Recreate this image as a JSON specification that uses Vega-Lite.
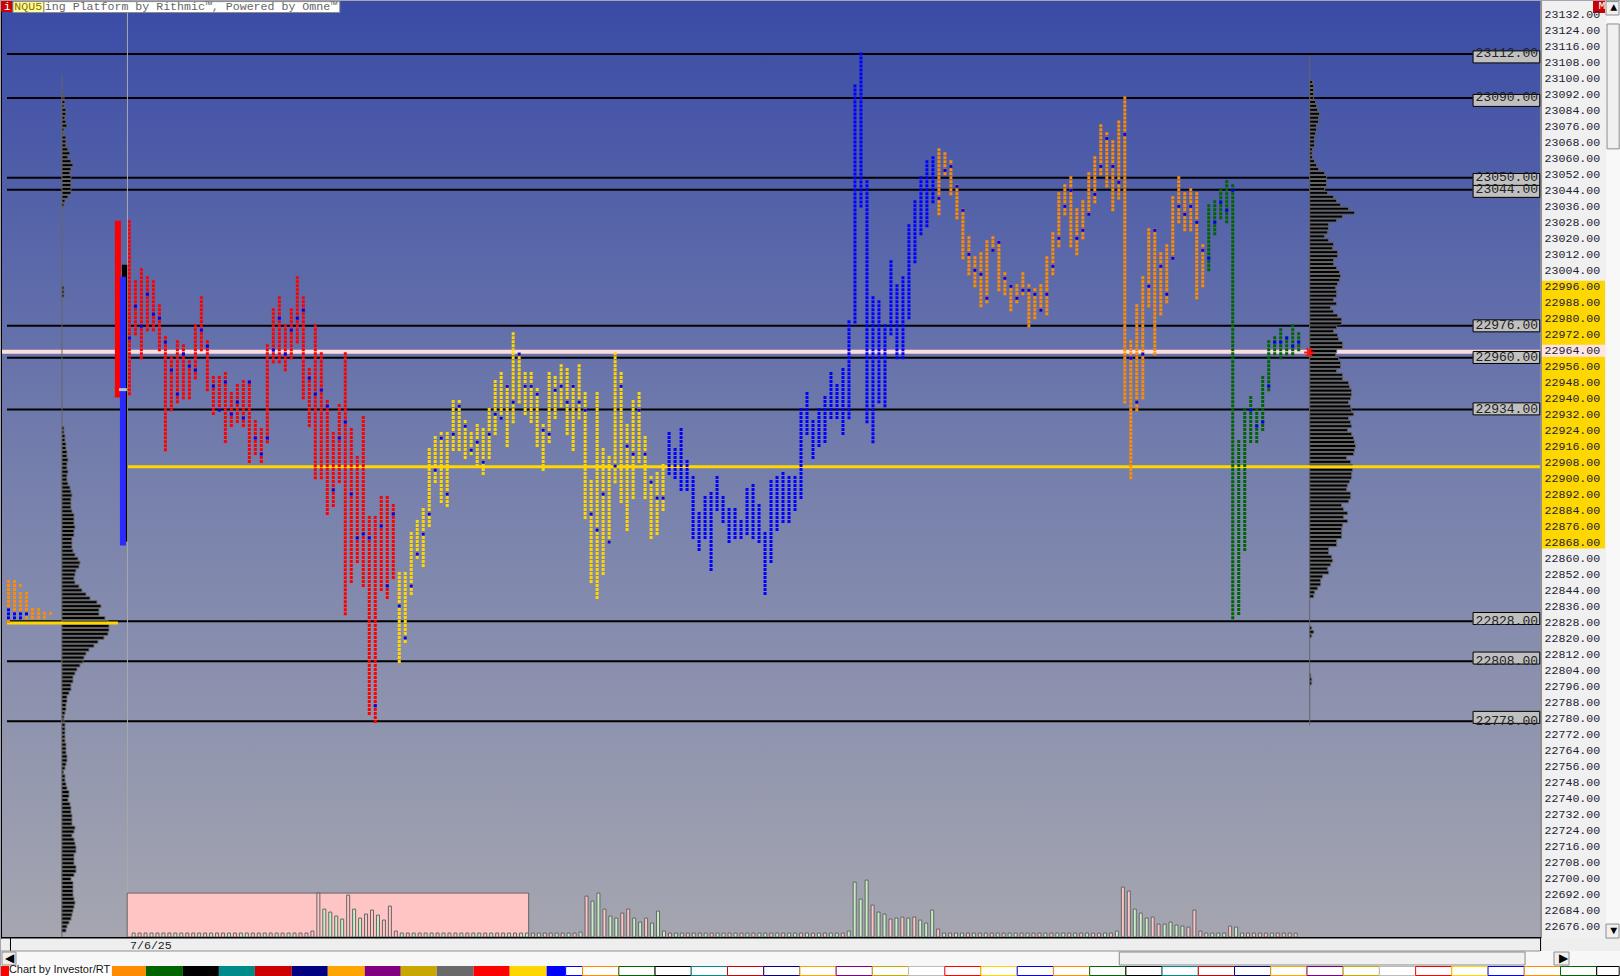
{"$schema":"https://vega.github.io/schema/vega-lite/v6.json","width":1620,"height":976,"padding":0,"autosize":{"type":"fit","contains":"padding"},"background":"#a4a5b0","config":{"view":{"stroke":null}},
"resolve":{"scale":{"x":"independent","y":"independent","fill":"independent","stroke":"independent","size":"independent"}},
"datasets":{
"levels":[{"price":23112},{"price":23090},{"price":23050},{"price":23044},{"price":22976},{"price":22960},{"price":22934},{"price":22828},{"price":22808},{"price":22778}],
"ticks":[{"price":23132},{"price":23124},{"price":23116},{"price":23108},{"price":23100},{"price":23092},{"price":23084},{"price":23076},{"price":23068},{"price":23060},{"price":23052},{"price":23044},{"price":23036},{"price":23028},{"price":23020},{"price":23012},{"price":23004},{"price":22996},{"price":22988},{"price":22980},{"price":22972},{"price":22964},{"price":22956},{"price":22948},{"price":22940},{"price":22932},{"price":22924},{"price":22916},{"price":22908},{"price":22900},{"price":22892},{"price":22884},{"price":22876},{"price":22868},{"price":22860},{"price":22852},{"price":22844},{"price":22836},{"price":22828},{"price":22820},{"price":22812},{"price":22804},{"price":22796},{"price":22788},{"price":22780},{"price":22772},{"price":22764},{"price":22756},{"price":22748},{"price":22740},{"price":22732},{"price":22724},{"price":22716},{"price":22708},{"price":22700},{"price":22692},{"price":22684},{"price":22676}],
"tpo":[
{"c":0,"h":23029,"l":22941,"s":"A"},{"c":1,"h":22999,"l":22971,"s":"A"},{"c":2,"h":23005,"l":22959,"s":"A"},{"c":3,"h":23001,"l":22973,"s":"A"},{"c":4,"h":22999,"l":22973,"s":"A"},{"c":5,"h":22987,"l":22963,"s":"A"},{"c":6,"h":22971,"l":22913,"s":"A"},{"c":7,"h":22961,"l":22933,"s":"A"},{"c":8,"h":22969,"l":22937,"s":"A"},{"c":9,"h":22967,"l":22939,"s":"A"},{"c":10,"h":22959,"l":22939,"s":"A"},{"c":11,"h":22977,"l":22949,"s":"A"},{"c":12,"h":22991,"l":22963,"s":"A"},{"c":13,"h":22969,"l":22943,"s":"A"},{"c":14,"h":22951,"l":22931,"s":"A"},{"c":15,"h":22951,"l":22933,"s":"A"},{"c":16,"h":22953,"l":22917,"s":"A"},{"c":17,"h":22943,"l":22925,"s":"A"},{"c":18,"h":22947,"l":22927,"s":"A"},{"c":19,"h":22949,"l":22925,"s":"A"},{"c":20,"h":22949,"l":22907,"s":"A"},{"c":21,"h":22929,"l":22911,"s":"A"},{"c":22,"h":22925,"l":22907,"s":"A"},{"c":23,"h":22967,"l":22917,"s":"A"},{"c":24,"h":22985,"l":22957,"s":"A"},{"c":25,"h":22991,"l":22957,"s":"A"},{"c":26,"h":22977,"l":22953,"s":"A"},{"c":27,"h":22985,"l":22959,"s":"A"},{"c":28,"h":23001,"l":22967,"s":"A"},{"c":29,"h":22991,"l":22939,"s":"A"},{"c":30,"h":22955,"l":22925,"s":"A"},{"c":31,"h":22977,"l":22899,"s":"A"},{"c":32,"h":22963,"l":22899,"s":"A"},{"c":33,"h":22939,"l":22881,"s":"A"},{"c":34,"h":22923,"l":22885,"s":"A"},{"c":35,"h":22937,"l":22897,"s":"A"},{"c":36,"h":22963,"l":22831,"s":"A"},{"c":37,"h":22925,"l":22847,"s":"A"},{"c":38,"h":22911,"l":22857,"s":"A"},{"c":39,"h":22931,"l":22845,"s":"A"},{"c":40,"h":22881,"l":22781,"s":"A"},{"c":41,"h":22881,"l":22777,"s":"A"},{"c":42,"h":22891,"l":22843,"s":"A"},{"c":43,"h":22891,"l":22839,"s":"A"},{"c":44,"h":22887,"l":22849,"s":"A"},
{"c":45,"h":22853,"l":22807,"s":"B"},{"c":46,"h":22853,"l":22817,"s":"B"},{"c":47,"h":22873,"l":22841,"s":"B"},{"c":48,"h":22879,"l":22859,"s":"B"},{"c":49,"h":22885,"l":22855,"s":"B"},{"c":50,"h":22915,"l":22875,"s":"B"},{"c":51,"h":22921,"l":22897,"s":"B"},{"c":52,"h":22923,"l":22887,"s":"B"},{"c":53,"h":22923,"l":22885,"s":"B"},{"c":54,"h":22939,"l":22913,"s":"B"},{"c":55,"h":22939,"l":22913,"s":"B"},{"c":56,"h":22929,"l":22909,"s":"B"},{"c":57,"h":22923,"l":22911,"s":"B"},{"c":58,"h":22927,"l":22905,"s":"B"},{"c":59,"h":22925,"l":22901,"s":"B"},{"c":60,"h":22935,"l":22909,"s":"B"},{"c":61,"h":22949,"l":22921,"s":"B"},{"c":62,"h":22953,"l":22929,"s":"B"},{"c":63,"h":22947,"l":22915,"s":"B"},{"c":64,"h":22973,"l":22927,"s":"B"},{"c":65,"h":22963,"l":22937,"s":"B"},{"c":66,"h":22953,"l":22931,"s":"B"},{"c":67,"h":22953,"l":22927,"s":"B"},{"c":68,"h":22945,"l":22915,"s":"B"},{"c":69,"h":22927,"l":22903,"s":"B"},{"c":70,"h":22953,"l":22917,"s":"B"},{"c":71,"h":22951,"l":22929,"s":"B"},{"c":72,"h":22957,"l":22935,"s":"B"},{"c":73,"h":22955,"l":22921,"s":"B"},{"c":74,"h":22947,"l":22913,"s":"B"},{"c":75,"h":22957,"l":22929,"s":"B"},{"c":76,"h":22943,"l":22879,"s":"B"},{"c":77,"h":22899,"l":22847,"s":"B"},{"c":78,"h":22943,"l":22839,"s":"B"},{"c":79,"h":22915,"l":22851,"s":"B"},{"c":80,"h":22911,"l":22867,"s":"B"},{"c":81,"h":22963,"l":22897,"s":"B"},{"c":82,"h":22953,"l":22887,"s":"B"},{"c":83,"h":22927,"l":22873,"s":"B"},{"c":84,"h":22939,"l":22889,"s":"B"},{"c":85,"h":22943,"l":22907,"s":"B"},{"c":86,"h":22921,"l":22889,"s":"B"},{"c":87,"h":22901,"l":22869,"s":"B"},{"c":88,"h":22903,"l":22871,"s":"B"},{"c":89,"h":22907,"l":22883,"s":"B"},
{"c":90,"h":22923,"l":22901,"s":"C"},{"c":91,"h":22915,"l":22899,"s":"C"},{"c":92,"h":22925,"l":22893,"s":"C"},{"c":93,"h":22909,"l":22893,"s":"C"},{"c":94,"h":22901,"l":22869,"s":"C"},{"c":95,"h":22883,"l":22863,"s":"C"},{"c":96,"h":22891,"l":22869,"s":"C"},{"c":97,"h":22893,"l":22853,"s":"C"},{"c":98,"h":22901,"l":22883,"s":"C"},{"c":99,"h":22891,"l":22877,"s":"C"},{"c":100,"h":22885,"l":22867,"s":"C"},{"c":101,"h":22885,"l":22869,"s":"C"},{"c":102,"h":22879,"l":22869,"s":"C"},{"c":103,"h":22895,"l":22871,"s":"C"},{"c":104,"h":22897,"l":22869,"s":"C"},{"c":105,"h":22887,"l":22867,"s":"C"},{"c":106,"h":22873,"l":22841,"s":"C"},{"c":107,"h":22899,"l":22857,"s":"C"},{"c":108,"h":22901,"l":22873,"s":"C"},{"c":109,"h":22903,"l":22877,"s":"C"},{"c":110,"h":22901,"l":22877,"s":"C"},{"c":111,"h":22901,"l":22883,"s":"C"},{"c":112,"h":22935,"l":22889,"s":"C"},{"c":113,"h":22943,"l":22921,"s":"C"},{"c":114,"h":22929,"l":22909,"s":"C"},{"c":115,"h":22935,"l":22915,"s":"C"},{"c":116,"h":22941,"l":22917,"s":"C"},{"c":117,"h":22953,"l":22929,"s":"C"},{"c":118,"h":22947,"l":22929,"s":"C"},{"c":119,"h":22955,"l":22921,"s":"C"},{"c":120,"h":22979,"l":22929,"s":"C"},{"c":121,"h":23097,"l":22977,"s":"C"},{"c":122,"h":23113,"l":23035,"s":"C"},{"c":123,"h":23049,"l":22927,"s":"C"},{"c":124,"h":22991,"l":22917,"s":"C"},{"c":125,"h":22989,"l":22937,"s":"C"},{"c":126,"h":22977,"l":22935,"s":"C"},{"c":127,"h":23009,"l":22971,"s":"C"},{"c":128,"h":22997,"l":22959,"s":"C"},{"c":129,"h":23001,"l":22959,"s":"C"},{"c":130,"h":23027,"l":22979,"s":"C"},{"c":131,"h":23039,"l":23007,"s":"C"},{"c":132,"h":23051,"l":23021,"s":"C"},{"c":133,"h":23059,"l":23025,"s":"C"},{"c":134,"h":23061,"l":23037,"s":"C"},
{"c":135,"h":23065,"l":23031,"s":"D"},{"c":136,"h":23063,"l":23051,"s":"D"},{"c":137,"h":23059,"l":23041,"s":"D"},{"c":138,"h":23047,"l":23029,"s":"D"},{"c":139,"h":23035,"l":23009,"s":"D"},{"c":140,"h":23021,"l":23001,"s":"D"},{"c":141,"h":23011,"l":22995,"s":"D"},{"c":142,"h":23013,"l":22985,"s":"D"},{"c":143,"h":23019,"l":22987,"s":"D"},{"c":144,"h":23021,"l":23013,"s":"D"},{"c":145,"h":23019,"l":22993,"s":"D"},{"c":146,"h":23003,"l":22991,"s":"D"},{"c":147,"h":22997,"l":22983,"s":"D"},{"c":148,"h":22997,"l":22987,"s":"D"},{"c":149,"h":23003,"l":22991,"s":"D"},{"c":150,"h":22997,"l":22975,"s":"D"},{"c":151,"h":22995,"l":22979,"s":"D"},{"c":152,"h":22997,"l":22983,"s":"D"},{"c":153,"h":23011,"l":22981,"s":"D"},{"c":154,"h":23023,"l":23001,"s":"D"},{"c":155,"h":23043,"l":23015,"s":"D"},{"c":156,"h":23047,"l":23031,"s":"D"},{"c":157,"h":23051,"l":23015,"s":"D"},{"c":158,"h":23035,"l":23011,"s":"D"},{"c":159,"h":23039,"l":23019,"s":"D"},{"c":160,"h":23053,"l":23031,"s":"D"},{"c":161,"h":23061,"l":23037,"s":"D"},{"c":162,"h":23077,"l":23051,"s":"D"},{"c":163,"h":23073,"l":23045,"s":"D"},{"c":164,"h":23069,"l":23033,"s":"D"},{"c":165,"h":23079,"l":23039,"s":"D"},{"c":166,"h":23091,"l":22937,"s":"D"},{"c":167,"h":22969,"l":22899,"s":"D"},{"c":168,"h":22987,"l":22933,"s":"D"},{"c":169,"h":23001,"l":22939,"s":"D"},{"c":170,"h":23025,"l":22985,"s":"D"},{"c":171,"h":23025,"l":22961,"s":"D"},{"c":172,"h":23013,"l":22981,"s":"D"},{"c":173,"h":23017,"l":22987,"s":"D"},{"c":174,"h":23041,"l":23009,"s":"D"},{"c":175,"h":23051,"l":23027,"s":"D"},{"c":176,"h":23043,"l":23023,"s":"D"},{"c":177,"h":23045,"l":23023,"s":"D"},{"c":178,"h":23043,"l":22989,"s":"D"},{"c":179,"h":23017,"l":22995,"s":"D"},
{"c":180,"h":23037,"l":23003,"s":"E"},{"c":181,"h":23039,"l":23021,"s":"E"},{"c":182,"h":23045,"l":23029,"s":"E"},{"c":183,"h":23049,"l":23027,"s":"E"},{"c":184,"h":23047,"l":22829,"s":"E"},{"c":185,"h":22919,"l":22831,"s":"E"},{"c":186,"h":22935,"l":22863,"s":"E"},{"c":187,"h":22941,"l":22917,"s":"E"},{"c":188,"h":22935,"l":22917,"s":"E"},{"c":189,"h":22951,"l":22923,"s":"E"},{"c":190,"h":22969,"l":22943,"s":"E"},{"c":191,"h":22971,"l":22961,"s":"E"},{"c":192,"h":22975,"l":22959,"s":"E"},{"c":193,"h":22971,"l":22961,"s":"E"},{"c":194,"h":22977,"l":22961,"s":"E"},{"c":195,"h":22973,"l":22963,"s":"E"},
{"c":-20.17,"h":22849,"l":22835,"s":"D"},{"c":-20.17,"h":22829,"l":22827,"s":"D"},{"c":-19.17,"h":22849,"l":22833,"s":"D"},{"c":-18.17,"h":22847,"l":22845,"s":"D"},{"c":-18.17,"h":22843,"l":22833,"s":"D"},{"c":-17.17,"h":22843,"l":22833,"s":"D"},{"c":-17.17,"h":22831,"l":22829,"s":"D"},{"c":-16.17,"h":22835,"l":22829,"s":"D"},{"c":-15.17,"h":22835,"l":22829,"s":"D"},{"c":-14.17,"h":22833,"l":22829,"s":"D"},{"c":-13.17,"h":22833,"l":22831,"s":"D"}],
"opens":[{"c":0,"p":22970},{"c":1,"p":22986},{"c":2,"p":22976},{"c":3,"p":22992},{"c":4,"p":22982},{"c":5,"p":22980},{"c":6,"p":22968},{"c":7,"p":22954},{"c":8,"p":22942},{"c":9,"p":22962},{"c":10,"p":22956},{"c":11,"p":22954},{"c":12,"p":22974},{"c":13,"p":22966},{"c":14,"p":22946},{"c":15,"p":22934},{"c":16,"p":22948},{"c":17,"p":22932},{"c":18,"p":22938},{"c":19,"p":22930},{"c":20,"p":22948},{"c":21,"p":22920},{"c":22,"p":22912},{"c":23,"p":22920},{"c":24,"p":22964},{"c":25,"p":22980},{"c":26,"p":22962},{"c":27,"p":22974},{"c":28,"p":22980},{"c":29,"p":22984},{"c":30,"p":22950},{"c":31,"p":22942},{"c":32,"p":22944},{"c":33,"p":22936},{"c":34,"p":22894},{"c":35,"p":22920},{"c":36,"p":22928},{"c":37,"p":22892},{"c":38,"p":22870},{"c":39,"p":22872},{"c":40,"p":22870},{"c":41,"p":22786},{"c":42,"p":22876},{"c":43,"p":22846},{"c":44,"p":22882},{"c":45,"p":22836},{"c":46,"p":22820},{"c":47,"p":22846},{"c":48,"p":22862},{"c":49,"p":22872},{"c":50,"p":22882},{"c":51,"p":22904},{"c":52,"p":22920},{"c":53,"p":22892},{"c":54,"p":22922},{"c":55,"p":22936},{"c":56,"p":22926},{"c":57,"p":22914},{"c":58,"p":22918},{"c":59,"p":22908},{"c":60,"p":22922},{"c":61,"p":22932},{"c":62,"p":22930},{"c":63,"p":22946},{"c":64,"p":22938},{"c":65,"p":22962},{"c":66,"p":22946},{"c":67,"p":22946},{"c":68,"p":22942},{"c":69,"p":22924},{"c":70,"p":22922},{"c":71,"p":22944},{"c":72,"p":22946},{"c":73,"p":22938},{"c":74,"p":22946},{"c":75,"p":22938},{"c":76,"p":22934},{"c":77,"p":22882},{"c":78,"p":22874},{"c":79,"p":22892},{"c":80,"p":22868},{"c":81,"p":22906},{"c":82,"p":22946},{"c":83,"p":22916},{"c":84,"p":22912},{"c":85,"p":22934},{"c":86,"p":22912},{"c":87,"p":22898},{"c":88,"p":22890},{"c":89,"p":22890},{"c":135,"p":23040},{"c":136,"p":23054},{"c":137,"p":23056},{"c":138,"p":23046},{"c":139,"p":23034},{"c":140,"p":23012},{"c":141,"p":23004},{"c":142,"p":23002},{"c":143,"p":22990},{"c":144,"p":23014},{"c":145,"p":23018},{"c":146,"p":23000},{"c":147,"p":22996},{"c":148,"p":22990},{"c":149,"p":22994},{"c":150,"p":22994},{"c":151,"p":22992},{"c":152,"p":22984},{"c":153,"p":22992},{"c":154,"p":23006},{"c":155,"p":23020},{"c":156,"p":23036},{"c":157,"p":23044},{"c":158,"p":23020},{"c":159,"p":23024},{"c":160,"p":23032},{"c":161,"p":23042},{"c":162,"p":23056},{"c":163,"p":23070},{"c":164,"p":23056},{"c":165,"p":23048},{"c":166,"p":23072},{"c":167,"p":22960},{"c":168,"p":22938},{"c":169,"p":22962},{"c":170,"p":22996},{"c":171,"p":23024},{"c":172,"p":23006},{"c":173,"p":22992},{"c":174,"p":23010},{"c":175,"p":23036},{"c":176,"p":23032},{"c":177,"p":23036},{"c":178,"p":23028},{"c":179,"p":23014},{"c":180,"p":23010},{"c":181,"p":23028},{"c":182,"p":23038},{"c":183,"p":23034},{"c":184,"p":23044},{"c":187,"p":22934},{"c":188,"p":22926},{"c":189,"p":22928},{"c":190,"p":22946},{"c":191,"p":22968},{"c":192,"p":22968},{"c":193,"p":22970},{"c":194,"p":22966},{"c":195,"p":22968},{"c":-20.17,"p":22834},{"c":-20.17,"p":22832},{"c":-20.17,"p":22830},{"c":-19.17,"p":22832},{"c":-19.17,"p":22830},{"c":-18.17,"p":22832},{"c":-18.17,"p":22830},{"c":-17.17,"p":22832}],
"profileR":[{"p":23100,"n":3},{"p":23098,"n":4},{"p":23096,"n":4},{"p":23094,"n":4},{"p":23092,"n":4},{"p":23090,"n":6},{"p":23088,"n":7},{"p":23086,"n":8},{"p":23084,"n":10},{"p":23082,"n":9},{"p":23080,"n":9},{"p":23078,"n":7},{"p":23076,"n":7},{"p":23074,"n":6},{"p":23072,"n":5},{"p":23070,"n":5},{"p":23068,"n":5},{"p":23066,"n":3},{"p":23064,"n":2.5},{"p":23062,"n":3},{"p":23060,"n":5},{"p":23058,"n":7},{"p":23056,"n":9},{"p":23054,"n":15},{"p":23052,"n":17},{"p":23050,"n":17},{"p":23048,"n":17},{"p":23046,"n":15},{"p":23044,"n":18},{"p":23042,"n":24},{"p":23040,"n":27},{"p":23038,"n":31},{"p":23036,"n":39},{"p":23034,"n":45},{"p":23032,"n":33},{"p":23030,"n":27},{"p":23028,"n":19},{"p":23026,"n":19},{"p":23024,"n":18},{"p":23022,"n":15},{"p":23020,"n":19},{"p":23018,"n":24},{"p":23016,"n":23},{"p":23014,"n":28},{"p":23012,"n":28},{"p":23010,"n":24},{"p":23008,"n":24},{"p":23006,"n":27},{"p":23004,"n":30},{"p":23002,"n":31},{"p":23000,"n":30},{"p":22998,"n":28},{"p":22996,"n":26},{"p":22994,"n":27},{"p":22992,"n":27},{"p":22990,"n":24},{"p":22988,"n":27},{"p":22986,"n":21},{"p":22984,"n":24},{"p":22982,"n":28},{"p":22980,"n":32},{"p":22978,"n":32},{"p":22976,"n":27},{"p":22974,"n":24},{"p":22972,"n":28},{"p":22970,"n":29},{"p":22968,"n":33},{"p":22966,"n":33},{"p":22964,"n":27},{"p":22962,"n":26},{"p":22960,"n":29},{"p":22958,"n":31},{"p":22956,"n":31},{"p":22954,"n":27},{"p":22952,"n":33},{"p":22950,"n":33},{"p":22948,"n":39},{"p":22946,"n":40},{"p":22944,"n":42},{"p":22942,"n":42},{"p":22940,"n":41},{"p":22938,"n":39},{"p":22936,"n":41},{"p":22934,"n":42},{"p":22932,"n":44},{"p":22930,"n":39},{"p":22928,"n":41},{"p":22926,"n":42},{"p":22924,"n":38},{"p":22922,"n":42},{"p":22920,"n":44},{"p":22918,"n":45},{"p":22916,"n":46},{"p":22914,"n":45},{"p":22912,"n":44},{"p":22910,"n":37},{"p":22908,"n":41},{"p":22906,"n":43},{"p":22904,"n":43},{"p":22902,"n":42},{"p":22900,"n":42},{"p":22898,"n":40},{"p":22896,"n":38},{"p":22894,"n":37},{"p":22892,"n":41},{"p":22890,"n":41},{"p":22888,"n":39},{"p":22886,"n":32},{"p":22884,"n":34},{"p":22882,"n":38},{"p":22880,"n":34},{"p":22878,"n":38},{"p":22876,"n":33},{"p":22874,"n":32},{"p":22872,"n":32},{"p":22870,"n":32},{"p":22868,"n":27},{"p":22866,"n":27},{"p":22864,"n":19},{"p":22862,"n":19},{"p":22860,"n":22},{"p":22858,"n":23},{"p":22856,"n":21},{"p":22854,"n":18},{"p":22852,"n":19},{"p":22850,"n":13},{"p":22848,"n":11},{"p":22846,"n":11},{"p":22844,"n":8},{"p":22842,"n":5},{"p":22840,"n":4},{"p":22824,"n":2},{"p":22822,"n":4},{"p":22820,"n":2},{"p":22800,"n":1},{"p":22798,"n":2},{"p":22796,"n":2}],
"profileL":[{"p":23094,"n":1},{"p":23092,"n":2},{"p":23090,"n":3},{"p":23088,"n":2},{"p":23086,"n":4},{"p":23084,"n":4},{"p":23082,"n":3},{"p":23080,"n":4},{"p":23078,"n":5},{"p":23076,"n":2},{"p":23074,"n":1},{"p":23072,"n":4},{"p":23070,"n":4},{"p":23068,"n":4},{"p":23066,"n":6},{"p":23064,"n":8},{"p":23062,"n":6},{"p":23060,"n":9},{"p":23058,"n":11},{"p":23056,"n":9},{"p":23054,"n":8},{"p":23052,"n":9},{"p":23050,"n":9},{"p":23048,"n":9},{"p":23046,"n":9},{"p":23044,"n":9},{"p":23042,"n":6},{"p":23040,"n":3},{"p":23038,"n":2},{"p":22996,"n":2},{"p":22994,"n":2},{"p":22992,"n":2},{"p":22925,"n":2},{"p":22923,"n":2},{"p":22921,"n":3},{"p":22919,"n":3},{"p":22917,"n":4},{"p":22915,"n":4},{"p":22913,"n":5},{"p":22911,"n":5},{"p":22909,"n":6},{"p":22907,"n":5},{"p":22905,"n":5},{"p":22903,"n":6},{"p":22901,"n":5},{"p":22899,"n":5},{"p":22897,"n":6},{"p":22895,"n":8},{"p":22893,"n":9},{"p":22891,"n":10},{"p":22889,"n":9},{"p":22887,"n":9},{"p":22885,"n":9},{"p":22883,"n":10},{"p":22881,"n":12},{"p":22879,"n":12},{"p":22877,"n":12},{"p":22875,"n":13},{"p":22873,"n":12},{"p":22871,"n":12},{"p":22869,"n":10},{"p":22867,"n":10},{"p":22865,"n":10},{"p":22863,"n":11},{"p":22861,"n":13},{"p":22859,"n":16},{"p":22857,"n":18},{"p":22855,"n":17},{"p":22853,"n":14},{"p":22851,"n":13},{"p":22849,"n":12},{"p":22847,"n":13},{"p":22845,"n":17},{"p":22843,"n":20},{"p":22841,"n":24},{"p":22839,"n":28},{"p":22837,"n":35},{"p":22835,"n":39},{"p":22833,"n":37},{"p":22831,"n":37},{"p":22829,"n":43},{"p":22827,"n":46},{"p":22825,"n":47},{"p":22823,"n":47},{"p":22821,"n":46},{"p":22819,"n":42},{"p":22817,"n":36},{"p":22815,"n":32},{"p":22813,"n":27},{"p":22811,"n":24},{"p":22809,"n":22},{"p":22807,"n":21},{"p":22805,"n":18},{"p":22803,"n":15},{"p":22801,"n":13},{"p":22799,"n":11},{"p":22797,"n":11},{"p":22795,"n":9},{"p":22793,"n":9},{"p":22791,"n":7},{"p":22789,"n":5},{"p":22787,"n":5},{"p":22785,"n":4},{"p":22783,"n":4},{"p":22781,"n":3},{"p":22779,"n":2},{"p":22777,"n":2},{"p":22775,"n":3},{"p":22773,"n":3},{"p":22771,"n":3},{"p":22769,"n":3},{"p":22767,"n":3},{"p":22765,"n":4},{"p":22763,"n":4},{"p":22761,"n":4},{"p":22759,"n":5},{"p":22757,"n":5},{"p":22755,"n":4},{"p":22753,"n":3},{"p":22751,"n":1.5},{"p":22749,"n":3},{"p":22747,"n":3},{"p":22745,"n":4},{"p":22743,"n":5},{"p":22741,"n":7},{"p":22739,"n":7},{"p":22737,"n":6},{"p":22735,"n":8},{"p":22733,"n":9},{"p":22731,"n":9},{"p":22729,"n":10},{"p":22727,"n":10},{"p":22725,"n":10},{"p":22723,"n":13},{"p":22721,"n":12},{"p":22719,"n":10},{"p":22717,"n":12},{"p":22715,"n":13},{"p":22713,"n":14},{"p":22711,"n":14},{"p":22709,"n":12},{"p":22707,"n":12},{"p":22705,"n":12},{"p":22703,"n":14},{"p":22701,"n":14},{"p":22699,"n":12},{"p":22697,"n":9},{"p":22695,"n":11},{"p":22693,"n":11},{"p":22691,"n":11},{"p":22689,"n":11},{"p":22687,"n":12},{"p":22685,"n":13},{"p":22683,"n":12},{"p":22681,"n":11},{"p":22679,"n":10},{"p":22677,"n":9},{"p":22675,"n":7},{"p":22673,"n":5},{"p":22671,"n":4}],
"volume":[{"c":0,"v":4,"d":"u"},{"c":1,"v":4,"d":"d"},{"c":2,"v":4,"d":"d"},{"c":3,"v":4,"d":"u"},{"c":4,"v":4,"d":"d"},{"c":5,"v":4,"d":"u"},{"c":6,"v":4,"d":"d"},{"c":7,"v":4,"d":"u"},{"c":8,"v":4,"d":"u"},{"c":9,"v":4,"d":"d"},{"c":10,"v":4,"d":"d"},{"c":11,"v":4,"d":"u"},{"c":12,"v":4,"d":"d"},{"c":13,"v":4,"d":"u"},{"c":14,"v":4,"d":"d"},{"c":15,"v":4,"d":"d"},{"c":16,"v":4,"d":"u"},{"c":17,"v":4,"d":"d"},{"c":18,"v":4,"d":"u"},{"c":19,"v":4,"d":"u"},{"c":20,"v":4,"d":"d"},{"c":21,"v":4,"d":"d"},{"c":22,"v":4,"d":"u"},{"c":23,"v":4,"d":"d"},{"c":24,"v":4,"d":"u"},{"c":25,"v":4,"d":"d"},{"c":26,"v":4,"d":"u"},{"c":27,"v":4,"d":"u"},{"c":28,"v":4,"d":"d"},{"c":29,"v":4,"d":"d"},{"c":30,"v":6,"d":"d"},{"c":31,"v":44,"d":"d"},{"c":32,"v":28,"d":"u"},{"c":33,"v":25,"d":"u"},{"c":34,"v":21,"d":"u"},{"c":35,"v":18,"d":"u"},{"c":36,"v":42,"d":"d"},{"c":37,"v":28,"d":"u"},{"c":38,"v":19,"d":"u"},{"c":39,"v":23,"d":"d"},{"c":40,"v":27,"d":"d"},{"c":41,"v":22,"d":"u"},{"c":42,"v":17,"d":"d"},{"c":43,"v":31,"d":"d"},{"c":44,"v":6,"d":"d"},{"c":45,"v":4,"d":"u"},{"c":46,"v":4,"d":"d"},{"c":47,"v":4,"d":"u"},{"c":48,"v":4,"d":"d"},{"c":49,"v":4,"d":"u"},{"c":50,"v":4,"d":"u"},{"c":51,"v":4,"d":"d"},{"c":52,"v":4,"d":"u"},{"c":53,"v":4,"d":"d"},{"c":54,"v":4,"d":"d"},{"c":55,"v":4,"d":"u"},{"c":56,"v":4,"d":"d"},{"c":57,"v":4,"d":"u"},{"c":58,"v":4,"d":"u"},{"c":59,"v":4,"d":"d"},{"c":60,"v":4,"d":"u"},{"c":61,"v":4,"d":"d"},{"c":62,"v":4,"d":"d"},{"c":63,"v":4,"d":"u"},{"c":64,"v":4,"d":"d"},{"c":65,"v":4,"d":"u"},{"c":66,"v":4,"d":"u"},{"c":67,"v":4,"d":"d"},{"c":68,"v":4,"d":"u"},{"c":69,"v":4,"d":"d"},{"c":70,"v":4,"d":"d"},{"c":71,"v":4,"d":"u"},{"c":72,"v":4,"d":"d"},{"c":73,"v":4,"d":"u"},{"c":74,"v":4,"d":"d"},{"c":75,"v":5,"d":"u"},{"c":76,"v":41,"d":"d"},{"c":77,"v":36,"d":"u"},{"c":78,"v":44,"d":"u"},{"c":79,"v":28,"d":"d"},{"c":80,"v":21,"d":"u"},{"c":81,"v":19,"d":"u"},{"c":82,"v":24,"d":"d"},{"c":83,"v":28,"d":"d"},{"c":84,"v":19,"d":"u"},{"c":85,"v":15,"d":"u"},{"c":86,"v":19,"d":"d"},{"c":87,"v":14,"d":"u"},{"c":88,"v":26,"d":"u"},{"c":89,"v":6,"d":"u"},{"c":90,"v":4,"d":"d"},{"c":91,"v":4,"d":"u"},{"c":92,"v":4,"d":"u"},{"c":93,"v":4,"d":"d"},{"c":94,"v":4,"d":"u"},{"c":95,"v":4,"d":"d"},{"c":96,"v":4,"d":"u"},{"c":97,"v":4,"d":"d"},{"c":98,"v":4,"d":"u"},{"c":99,"v":4,"d":"u"},{"c":100,"v":4,"d":"d"},{"c":101,"v":4,"d":"u"},{"c":102,"v":4,"d":"d"},{"c":103,"v":4,"d":"u"},{"c":104,"v":4,"d":"d"},{"c":105,"v":4,"d":"u"},{"c":106,"v":4,"d":"u"},{"c":107,"v":4,"d":"d"},{"c":108,"v":4,"d":"u"},{"c":109,"v":4,"d":"d"},{"c":110,"v":4,"d":"u"},{"c":111,"v":4,"d":"u"},{"c":112,"v":4,"d":"d"},{"c":113,"v":4,"d":"u"},{"c":114,"v":4,"d":"d"},{"c":115,"v":4,"d":"u"},{"c":116,"v":4,"d":"d"},{"c":117,"v":4,"d":"u"},{"c":118,"v":4,"d":"u"},{"c":119,"v":4,"d":"d"},{"c":120,"v":6,"d":"u"},{"c":121,"v":55,"d":"u"},{"c":122,"v":38,"d":"u"},{"c":123,"v":57,"d":"u"},{"c":124,"v":32,"d":"d"},{"c":125,"v":25,"d":"u"},{"c":126,"v":23,"d":"u"},{"c":127,"v":18,"d":"d"},{"c":128,"v":19,"d":"u"},{"c":129,"v":20,"d":"d"},{"c":130,"v":19,"d":"u"},{"c":131,"v":20,"d":"d"},{"c":132,"v":17,"d":"u"},{"c":133,"v":14,"d":"u"},{"c":134,"v":27,"d":"u"},{"c":135,"v":8,"d":"d"},{"c":136,"v":4,"d":"u"},{"c":137,"v":4,"d":"d"},{"c":138,"v":4,"d":"u"},{"c":139,"v":4,"d":"u"},{"c":140,"v":4,"d":"d"},{"c":141,"v":4,"d":"u"},{"c":142,"v":4,"d":"d"},{"c":143,"v":4,"d":"u"},{"c":144,"v":4,"d":"d"},{"c":145,"v":4,"d":"u"},{"c":146,"v":4,"d":"d"},{"c":147,"v":4,"d":"u"},{"c":148,"v":4,"d":"u"},{"c":149,"v":4,"d":"d"},{"c":150,"v":4,"d":"u"},{"c":151,"v":4,"d":"d"},{"c":152,"v":4,"d":"d"},{"c":153,"v":4,"d":"u"},{"c":154,"v":4,"d":"d"},{"c":155,"v":4,"d":"u"},{"c":156,"v":4,"d":"u"},{"c":157,"v":4,"d":"d"},{"c":158,"v":4,"d":"u"},{"c":159,"v":4,"d":"d"},{"c":160,"v":4,"d":"u"},{"c":161,"v":4,"d":"d"},{"c":162,"v":4,"d":"d"},{"c":163,"v":4,"d":"u"},{"c":164,"v":4,"d":"d"},{"c":165,"v":6,"d":"u"},{"c":166,"v":50,"d":"d"},{"c":167,"v":46,"d":"d"},{"c":168,"v":28,"d":"u"},{"c":169,"v":24,"d":"u"},{"c":170,"v":19,"d":"u"},{"c":171,"v":20,"d":"d"},{"c":172,"v":13,"d":"d"},{"c":173,"v":13,"d":"u"},{"c":174,"v":15,"d":"u"},{"c":175,"v":12,"d":"u"},{"c":176,"v":11,"d":"u"},{"c":177,"v":10,"d":"d"},{"c":178,"v":27,"d":"d"},{"c":179,"v":6,"d":"d"},{"c":180,"v":4,"d":"u"},{"c":181,"v":4,"d":"u"},{"c":182,"v":4,"d":"u"},{"c":183,"v":4,"d":"u"},{"c":184,"v":11,"d":"d"},{"c":185,"v":10,"d":"u"},{"c":186,"v":4,"d":"u"},{"c":187,"v":4,"d":"d"},{"c":188,"v":4,"d":"d"},{"c":189,"v":4,"d":"d"},{"c":190,"v":4,"d":"d"},{"c":191,"v":4,"d":"u"},{"c":192,"v":4,"d":"d"},{"c":193,"v":4,"d":"d"},{"c":194,"v":4,"d":"d"},{"c":195,"v":4,"d":"d"}],
"panels":[{"part":"axis","x0":235.42,"x1":246.25,"p0":23138.5,"p1":22669.5},{"part":"edge","x0":235.25,"x1":235.58,"p0":23138.5,"p1":22669.5},{"part":"value","x0":235.58,"x1":246.08,"p0":22998.5,"p1":22864.5},{"part":"last","x0":235.58,"x1":246.08,"p0":22966.5,"p1":22960.5},{"part":"vscroll","x0":246.25,"x1":248.5833,"p0":23138.5,"p1":22662.5},{"part":"xpanel","x0":-21.4167,"x1":248.5833,"p0":22669.5,"p1":22663},{"part":"hscroll","x0":-21.4167,"x1":248.5833,"p0":22663,"p1":22655.5},{"part":"white","x0":-21.4167,"x1":248.5833,"p0":22655.5,"p1":22650.5},{"part":"black","x0":-21.4167,"x1":235.42,"p0":22670,"p1":22669.25},{"part":"black","x0":-21.4167,"x1":-21.25,"p0":23138.5,"p1":22669.25},{"part":"black","x0":235.25,"x1":235.42,"p0":22669.5,"p1":22663},{"part":"black","x0":-19.92,"x1":-19.75,"p0":22669.5,"p1":22663},{"part":"edge","x0":-21.4167,"x1":235.25,"p0":22663.25,"p1":22662.75},{"part":"flag","x0":244.08,"x1":246.08,"p0":23138.5,"p1":23132.5},{"part":"flag","x0":-21.4167,"x1":-19.58,"p0":23138.5,"p1":23133}],
"framed":[{"part":"button","x0":246.42,"x1":248.45,"p0":23127,"p1":23064.5},{"part":"button","x0":165.08,"x1":232.75,"p0":22662.5,"p1":22656},{"part":"button","x0":246.25,"x1":248.42,"p0":23138.2,"p1":23131.5},{"part":"button","x0":246.25,"x1":248.42,"p0":22676.5,"p1":22669.5},{"part":"button","x0":-21.25,"x1":-18.92,"p0":22662.5,"p1":22656},{"part":"button","x0":237.58,"x1":240.08,"p0":22662.5,"p1":22656},{"part":"symbol","x0":-19.42,"x1":-14.25,"p0":23138.2,"p1":23132.75},{"part":"banner","x0":-14.25,"x1":35.08,"p0":23138.2,"p1":23132.75}],
"ranges":[{"x0":-2.42,"x1":-1.42,"hi":23028.5,"lo":22940,"k":"red"},{"x0":-1.25,"x1":-0.37,"hi":23006.5,"lo":22868,"k":"black"},{"x0":-1.58,"x1":-0.58,"hi":23000.5,"lo":22866,"k":"blue"},{"x0":-1.75,"x1":-0.42,"hi":22944.75,"lo":22943.25,"k":"mark"}],
"strip":[{"x0":-21.4167,"x1":-20.08,"tone":"red"},{"x0":-2.92,"x1":2.75,"tone":"orange"},{"x0":2.75,"x1":8.92,"tone":"green"},{"x0":8.92,"x1":14.92,"tone":"black"},{"x0":14.92,"x1":20.92,"tone":"teal"},{"x0":20.92,"x1":27.08,"tone":"crimson"},{"x0":27.08,"x1":33.08,"tone":"navy"},{"x0":33.08,"x1":39.25,"tone":"amber"},{"x0":39.25,"x1":45.25,"tone":"purple"},{"x0":45.25,"x1":51.25,"tone":"ochre"},{"x0":51.25,"x1":57.42,"tone":"slate"},{"x0":57.42,"x1":63.42,"tone":"red"},{"x0":63.42,"x1":69.58,"tone":"gold"},{"x0":69.58,"x1":72.75,"tone":"blue"}],
"stripOutline":[{"x0":72.75,"x1":75.58,"tone":"blue"},{"x0":75.58,"x1":81.62,"tone":"orange"},{"x0":81.62,"x1":87.66,"tone":"green"},{"x0":87.66,"x1":93.7,"tone":"black"},{"x0":93.7,"x1":99.74,"tone":"teal"},{"x0":99.74,"x1":105.78,"tone":"crimson"},{"x0":105.78,"x1":111.82,"tone":"navy"},{"x0":111.82,"x1":117.86,"tone":"amber"},{"x0":117.86,"x1":123.9,"tone":"purple"},{"x0":123.9,"x1":129.94,"tone":"ochre"},{"x0":129.94,"x1":135.98,"tone":"slate"},{"x0":135.98,"x1":142.02,"tone":"red"},{"x0":142.02,"x1":148.06,"tone":"gold"},{"x0":148.06,"x1":154.1,"tone":"blue"},{"x0":154.1,"x1":160.14,"tone":"orange"},{"x0":160.14,"x1":166.18,"tone":"green"},{"x0":166.18,"x1":172.22,"tone":"black"},{"x0":172.22,"x1":178.26,"tone":"teal"},{"x0":178.26,"x1":184.3,"tone":"crimson"},{"x0":184.3,"x1":190.34,"tone":"navy"},{"x0":190.34,"x1":196.38,"tone":"amber"},{"x0":196.38,"x1":202.42,"tone":"purple"},{"x0":202.42,"x1":208.46,"tone":"ochre"},{"x0":208.46,"x1":214.5,"tone":"slate"},{"x0":214.5,"x1":220.54,"tone":"red"},{"x0":220.54,"x1":226.58,"tone":"gold"},{"x0":226.58,"x1":232.62,"tone":"blue"},{"x0":232.62,"x1":238.66,"tone":"orange"},{"x0":238.66,"x1":244.7,"tone":"green"},{"x0":244.7,"x1":248.45,"tone":"black"}],
"texts":[{"x":-14.1,"p":23135.6,"t":"ing Platform by Rithmic™, Powered by Omne™","k":"banner"},{"x":-19.2,"p":23135.6,"t":"NQU5","k":"symbol"},{"x":-20.95,"p":23135.6,"t":"i","k":"flag"},{"x":245,"p":23135.9,"t":"M","k":"corner"},{"x":0.1,"p":22665.3,"t":"7/6/25","k":"date"},{"x":246.95,"p":23135,"t":"▲","k":"arrow"},{"x":246.95,"p":22673,"t":"▼","k":"arrow"},{"x":-20.7,"p":22659.2,"t":"◀","k":"arrow"},{"x":238.4,"p":22659.2,"t":"▶","k":"arrow"}]
},
"layer":[
{"data":{"values":[{"a":1}]},"mark":{"type":"rect","fill":{"x1":0,"y1":0,"x2":0,"y2":1,"gradient":"linear","stops":[{"offset":0,"color":"#3a4ba6"},{"offset":0.5,"color":"#757fac"},{"offset":1,"color":"#a5a6b0"}]}},"encoding":{"x":{"datum":-21.4167,"scale":{"domain":[-21.4167,248.5833]},"axis":null},"x2":{"datum":248.5833},"y":{"datum":23138.5,"scale":{"domain":[22650.5,23138.5]},"axis":null},"y2":{"datum":22669.5}}},
{"data":{"values":[{"price":22963}]},"mark":{"type":"rule","stroke":"#ffdcdc","strokeWidth":4},"encoding":{"x":{"datum":-21.25,"scale":{"domain":[-21.4167,248.5833]},"axis":null},"x2":{"datum":235.25},"y":{"field":"price","type":"quantitative","scale":{"domain":[22650.5,23138.5]},"axis":null}}},
{"data":{"name":"levels"},"mark":{"type":"rule","stroke":"#000000","strokeWidth":2},"encoding":{"x":{"datum":-20.4167,"scale":{"domain":[-21.4167,248.5833]},"axis":null},"x2":{"datum":224},"y":{"field":"price","type":"quantitative","scale":{"domain":[22650.5,23138.5]},"axis":null}}},
{"data":{"values":[{"a":0}]},"mark":{"type":"rule","stroke":"#666666","strokeWidth":1},"encoding":{"x":{"datum":0,"scale":{"domain":[-61,1559]},"axis":null},"y":{"datum":23102,"scale":{"domain":[22650.5,23138.5]},"axis":null},"y2":{"datum":22670}}},
{"data":{"values":[{"a":0}]},"mark":{"type":"rule","stroke":"#666666","strokeWidth":1},"encoding":{"x":{"datum":0,"scale":{"domain":[-1309.5,310.5]},"axis":null},"y":{"datum":23111,"scale":{"domain":[22650.5,23138.5]},"axis":null},"y2":{"datum":22776}}},
{"data":{"name":"profileL"},"mark":{"type":"bar","orient":"horizontal","size":3,"fill":"#000000","stroke":"#666666","strokeWidth":1},"encoding":{"x":{"field":"n","type":"quantitative","scale":{"domain":[-61,1559]},"axis":null},"y":{"field":"p","type":"quantitative","scale":{"domain":[22650.5,23138.5]},"axis":null}}},
{"data":{"name":"profileR"},"mark":{"type":"bar","orient":"horizontal","size":3,"fill":"#000000","stroke":"#666666","strokeWidth":1},"encoding":{"x":{"field":"n","type":"quantitative","scale":{"domain":[-1309.5,310.5]},"axis":null},"y":{"field":"p","type":"quantitative","scale":{"domain":[22650.5,23138.5]},"axis":null}}},
{"data":{"values":[{"price":22905.4}]},"mark":{"type":"rule","stroke":"#ffd700","strokeWidth":3},"encoding":{"x":{"datum":-0.42,"scale":{"domain":[-21.4167,248.5833]},"axis":null},"x2":{"datum":235.25},"y":{"field":"price","type":"quantitative","scale":{"domain":[22650.5,23138.5]},"axis":null}}},
{"data":{"values":[{"price":22827.2}]},"mark":{"type":"rule","stroke":"#ffd700","strokeWidth":3},"encoding":{"x":{"datum":-20.42,"scale":{"domain":[-21.4167,248.5833]},"axis":null},"x2":{"datum":-1.92},"y":{"field":"price","type":"quantitative","scale":{"domain":[22650.5,23138.5]},"axis":null}}},
{"data":{"values":[{"a":0}]},"mark":{"type":"rule","stroke":"#a9a9a9","strokeWidth":1},"encoding":{"x":{"datum":-0.33,"scale":{"domain":[-21.4167,248.5833]},"axis":null},"y":{"datum":23132.5,"scale":{"domain":[22650.5,23138.5]},"axis":null},"y2":{"datum":22669.5}}},
{"data":{"name":"ranges"},"mark":{"type":"rect"},"encoding":{"x":{"field":"x0","type":"quantitative","scale":{"domain":[-21.4167,248.5833]},"axis":null},"x2":{"field":"x1"},"y":{"field":"hi","type":"quantitative","scale":{"domain":[22650.5,23138.5]},"axis":null},"y2":{"field":"lo"},"fill":{"field":"k","type":"nominal","legend":null,"scale":{"domain":["red","black","blue","mark"],"range":["#ff0000","#000000","#2a2aff","#c0c0c0"]}}}},
{"data":{"name":"tpo"},"mark":{"type":"rule","strokeWidth":3,"strokeDash":[3,1],"yOffset":0.5},"encoding":{"x":{"field":"c","type":"quantitative","scale":{"domain":[-21.4167,248.5833]},"axis":null},"y":{"field":"h","type":"quantitative","scale":{"domain":[22650.5,23138.5]},"axis":null},"y2":{"field":"l"},"stroke":{"field":"s","type":"nominal","legend":null,"scale":{"domain":["A","B","C","D","E"],"range":["#ff0000","#ffd700","#0000ff","#ff8c00","#006400"]}}}},
{"data":{"name":"opens"},"mark":{"type":"square","size":9,"fill":"#0000e6","opacity":1,"yOffset":0.5},"encoding":{"x":{"field":"c","type":"quantitative","scale":{"domain":[-21.4167,248.5833]},"axis":null},"y":{"field":"p","type":"quantitative","scale":{"domain":[22650.5,23138.5]},"axis":null}}},
{"data":{"values":[{"c":196.75,"p":22962.6}]},"mark":{"type":"point","shape":"M-1,0L1,0M-0.5,-0.87L0.5,0.87M0.5,-0.87L-0.5,0.87","filled":false,"stroke":"#ff1010","strokeWidth":2,"size":100,"opacity":1},"encoding":{"x":{"field":"c","type":"quantitative","scale":{"domain":[-21.4167,248.5833]},"axis":null},"y":{"field":"p","type":"quantitative","scale":{"domain":[22650.5,23138.5]},"axis":null}}},
{"data":{"values":[{"x0":-0.37,"x1":66.58,"vol":44}]},"mark":{"type":"rect","fill":"#ffc4c4","stroke":"#666666","strokeWidth":1},"encoding":{"x":{"field":"x0","type":"quantitative","scale":{"domain":[-21.4167,248.5833]},"axis":null},"x2":{"field":"x1"},"y":{"field":"vol","type":"quantitative","scale":{"domain":[-39,937]},"axis":null},"y2":{"datum":0}}},
{"data":{"name":"volume"},"mark":{"type":"bar","size":3,"stroke":"#666666","strokeWidth":1,"orient":"vertical"},"encoding":{"x":{"field":"c","type":"quantitative","scale":{"domain":[-21.4167,248.5833]},"axis":null},"y":{"field":"v","type":"quantitative","scale":{"domain":[-39,937]},"axis":null},"fill":{"field":"d","type":"nominal","legend":null,"scale":{"domain":["u","d"],"range":["#c4f0c4","#ffc4c4"]}}}},
{"data":{"name":"panels"},"mark":{"type":"rect"},"encoding":{"x":{"field":"x0","type":"quantitative","scale":{"domain":[-21.4167,248.5833]},"axis":null},"x2":{"field":"x1"},"y":{"field":"p0","type":"quantitative","scale":{"domain":[22650.5,23138.5]},"axis":null},"y2":{"field":"p1"},"fill":{"field":"part","type":"nominal","legend":null,"scale":{"domain":["axis","edge","value","last","vscroll","xpanel","hscroll","white","black","flag"],"range":["#f0f0f0","#909090","#ffd700","#ffe4e4","#f8f8f8","#eeeeee","#f7f7f7","#ffffff","#000000","#cc0000"]}}}},
{"data":{"name":"framed"},"mark":{"type":"rect","stroke":"#8c8c8c","strokeWidth":1},"encoding":{"x":{"field":"x0","type":"quantitative","scale":{"domain":[-21.4167,248.5833]},"axis":null},"x2":{"field":"x1"},"y":{"field":"p0","type":"quantitative","scale":{"domain":[22650.5,23138.5]},"axis":null},"y2":{"field":"p1"},"fill":{"field":"part","type":"nominal","legend":null,"scale":{"domain":["button","symbol","banner"],"range":["#f0f0f0","#ffff99","#ffffff"]}}}},
{"data":{"name":"strip"},"mark":{"type":"rect"},"encoding":{"x":{"field":"x0","type":"quantitative","scale":{"domain":[-21.4167,248.5833]},"axis":null},"x2":{"field":"x1"},"y":{"datum":22655.5,"scale":{"domain":[22650.5,23138.5]},"axis":null},"y2":{"datum":22650.5},"fill":{"field":"tone","type":"nominal","legend":null,"scale":{"domain":["orange","green","black","teal","crimson","navy","amber","purple","ochre","slate","red","gold","blue"],"range":["#ff8c00","#006400","#000000","#008b8b","#cc0000","#000080","#ffa500","#800080","#c8a800","#696969","#ff0000","#ffd700","#0000ff"]}}}},
{"data":{"name":"stripOutline"},"mark":{"type":"rect","fill":"#ffffff","strokeWidth":1},"encoding":{"x":{"field":"x0","type":"quantitative","scale":{"domain":[-21.4167,248.5833]},"axis":null},"x2":{"field":"x1"},"y":{"datum":22655.25,"scale":{"domain":[22650.5,23138.5]},"axis":null},"y2":{"datum":22650.75},"stroke":{"field":"tone","type":"nominal","legend":null,"scale":{"domain":["orange","green","black","teal","crimson","navy","amber","purple","ochre","slate","red","gold","blue"],"range":["#ff8c00","#006400","#000000","#008b8b","#cc0000","#000080","#ffa500","#800080","#c8a800","#bbbbbb","#ff0000","#ffd700","#0000ff"]}}}},
{"data":{"name":"levels"},"mark":{"type":"bar","orient":"horizontal","size":12,"fill":"#c0c0c0","stroke":"#000000","strokeWidth":1,"yOffset":-1.5},"encoding":{"x":{"datum":224.08,"scale":{"domain":[-21.4167,248.5833]},"axis":null},"x2":{"datum":235.2},"y":{"field":"price","type":"quantitative","scale":{"domain":[22650.5,23138.5]},"axis":null}}},
{"data":{"name":"levels"},"mark":{"type":"text","align":"left","baseline":"middle","font":"Liberation Mono","fontSize":13,"fill":"#222222","yOffset":-0.5},"encoding":{"x":{"datum":224.5,"scale":{"domain":[-21.4167,248.5833]},"axis":null},"y":{"field":"price","type":"quantitative","scale":{"domain":[22650.5,23138.5]},"axis":null},"text":{"field":"price","type":"quantitative","format":".2f"}}},
{"data":{"name":"ticks"},"mark":{"type":"text","align":"left","baseline":"middle","font":"Liberation Mono","fontSize":11.6,"fill":"#222233","yOffset":1.5},"encoding":{"x":{"datum":236,"scale":{"domain":[-21.4167,248.5833]},"axis":null},"y":{"field":"price","type":"quantitative","scale":{"domain":[22650.5,23138.5]},"axis":null},"text":{"field":"price","type":"quantitative","format":".2f"}}},
{"data":{"name":"texts"},"mark":{"type":"text","align":"left","baseline":"middle","font":"Liberation Mono"},"encoding":{"x":{"field":"x","type":"quantitative","scale":{"domain":[-21.4167,248.5833]},"axis":null},"y":{"field":"p","type":"quantitative","scale":{"domain":[22650.5,23138.5]},"axis":null},"text":{"field":"t"},"size":{"field":"k","type":"nominal","legend":null,"scale":{"domain":["banner","symbol","flag","corner","date","arrow"],"range":[11.6,11.6,11.6,10,13,7]}},"fill":{"field":"k","type":"nominal","legend":null,"scale":{"domain":["banner","symbol","flag","corner","date","arrow"],"range":["#666666","#8a6d00","#ffffff","#ffffff","#222222","#000000"]}}}},
{"data":{"values":[{"x":-20.1,"p":22653.4,"t":"Chart by Investor/RT"}]},"mark":{"type":"text","align":"left","baseline":"middle","font":"Liberation Sans","fontSize":11,"fill":"#111111"},"encoding":{"x":{"field":"x","type":"quantitative","scale":{"domain":[-21.4167,248.5833]},"axis":null},"y":{"field":"p","type":"quantitative","scale":{"domain":[22650.5,23138.5]},"axis":null},"text":{"field":"t"}}}
]}
